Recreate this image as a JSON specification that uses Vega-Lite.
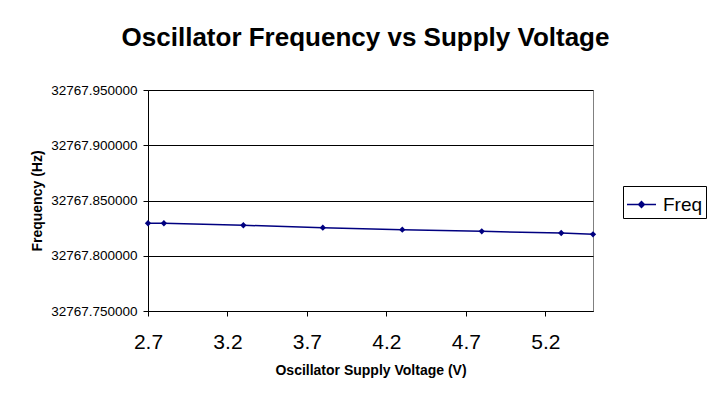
{
  "$schema": "https://vega.github.io/schema/vega-lite/v6.json",
  "width": 445,
  "height": 221,
  "autosize": {"type": "none"},
  "padding": {"left": 148, "top": 90, "right": 133, "bottom": 89},
  "background": "white",
  "title": {
    "text": "Oscillator Frequency vs Supply Voltage",
    "fontSize": 26,
    "font": "Liberation Sans",
    "fontWeight": "bold",
    "color": "black",
    "anchor": "middle",
    "baseline": "alphabetic",
    "offset": 11,
    "dx": -5
  },
  "data": {
    "values": [
      {"V": 2.7, "Freq": 32767.8294, "series": "Freq"},
      {"V": 2.8, "Freq": 32767.8294, "series": "Freq"},
      {"V": 3.3, "Freq": 32767.8276, "series": "Freq"},
      {"V": 3.8, "Freq": 32767.8254, "series": "Freq"},
      {"V": 4.3, "Freq": 32767.8236, "series": "Freq"},
      {"V": 4.8, "Freq": 32767.8221, "series": "Freq"},
      {"V": 5.3, "Freq": 32767.8206, "series": "Freq"},
      {"V": 5.5, "Freq": 32767.8194, "series": "Freq"}
    ]
  },
  "encoding": {
    "x": {
      "field": "V",
      "type": "quantitative",
      "scale": {"domain": [2.7, 5.5], "nice": false, "zero": false},
      "axis": {
        "values": [2.7, 3.2, 3.7, 4.2, 4.7, 5.2],
        "format": ".1f",
        "grid": false,
        "labelFlush": false,
        "labelFontSize": 21,
        "labelFont": "Liberation Sans",
        "labelColor": "black",
        "labelPadding": 15,
        "tickSize": 5,
        "tickColor": "black",
        "domainColor": "black",
        "title": "Oscillator Supply Voltage (V)",
        "titleFont": "Liberation Sans",
        "titleFontSize": 14,
        "titleFontWeight": "bold",
        "titleColor": "black",
        "titlePadding": 11
      }
    },
    "y": {
      "field": "Freq",
      "type": "quantitative",
      "scale": {"domain": [32767.75, 32767.95], "nice": false, "zero": false},
      "axis": {
        "values": [32767.75, 32767.8, 32767.85, 32767.9, 32767.95],
        "format": ".6f",
        "grid": true,
        "gridColor": "#000000",
        "gridWidth": 1,
        "labelFlush": false,
        "labelFontSize": 13.5,
        "labelFont": "Liberation Sans",
        "labelColor": "black",
        "labelPadding": 6,
        "tickSize": 5,
        "tickColor": "black",
        "domainColor": "black",
        "title": "Frequency (Hz)",
        "titleFont": "Liberation Sans",
        "titleFontSize": 14,
        "titleFontWeight": "bold",
        "titleColor": "black",
        "titlePadding": 6
      }
    },
    "color": {
      "field": "series",
      "type": "nominal",
      "scale": {"range": ["#000080"]},
      "legend": {
        "title": null,
        "orient": "none",
        "legendX": 475,
        "legendY": 96,
        "strokeColor": "black",
        "fillColor": "white",
        "padding": 3,
        "symbolType": "M-1,0H1M-0.2,0L0,-0.2L0.2,0L0,0.2Z",
        "symbolSize": 841,
        "symbolStrokeWidth": 1.5,
        "symbolFillColor": "#000080",
        "symbolStrokeColor": "#000080",
        "labelFont": "Liberation Sans",
        "labelFontSize": 19,
        "labelColor": "black",
        "labelOffset": 6
      }
    }
  },
  "layer": [
    {"mark": {"type": "line", "strokeWidth": 1.5}},
    {"mark": {"type": "point", "shape": "diamond", "filled": true, "size": 40, "opacity": 1}}
  ],
  "config": {
    "view": {"stroke": "#808080", "strokeWidth": 1}
  }
}
